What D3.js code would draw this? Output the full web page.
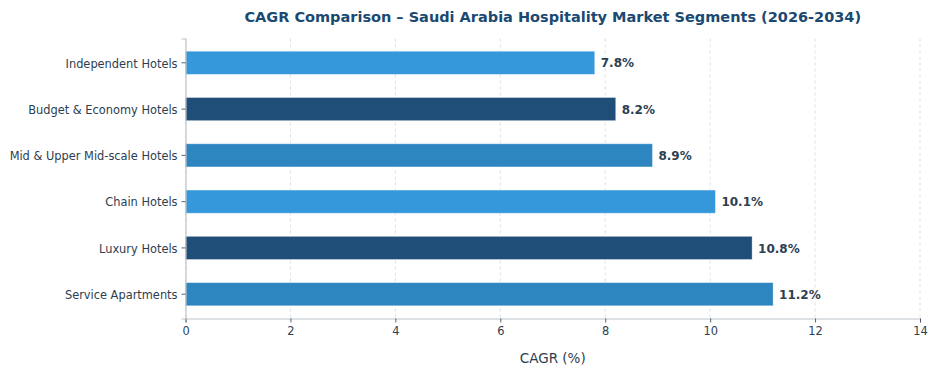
<!DOCTYPE html>
<html>
<head>
<meta charset="utf-8">
<script src="https://cdn.jsdelivr.net/npm/d3@7"></script>
<style>
  body { margin: 0; background: #fff; }
  svg { font-family: "DejaVu Sans", sans-serif; }
</style>
</head>
<body>
<svg id="chart" width="936" height="375"></svg>
<script>
// chart data
const segments = ["Independent Hotels", "Budget & Economy Hotels", "Mid & Upper Mid-scale Hotels",
    "Chain Hotels", "Luxury Hotels", "Service Apartments"];
const cagr = [7.8, 8.2, 8.9, 10.1, 10.8, 11.2];
const barColors = ["#3498db", "#1f4e79", "#2e86c1", "#3498db", "#1f4e79", "#2e86c1"];
const xTicks = [0, 2, 4, 6, 8, 10, 12, 14];

(() => {
    const svg = d3.select("svg#chart");
    const margin = { top: 38.5, right: 16, bottom: 56.5, left: 185.5 };
    const width = 936, height = 375;
    const textColor = "#2c3e50";

    const xScale = d3.scaleLinear()
        .domain([0, 14])
        .range([margin.left, width - margin.right]);

    const yScale = d3.scaleBand()
        .domain(segments)
        .range([margin.top, height - margin.bottom])
        .paddingInner(0.5)
        .paddingOuter(0.275);

    // grid
    svg.append("g")
        .selectAll("line")
        .data(xTicks)
        .enter()
        .append("line")
        .attr("x1", d => xScale(d))
        .attr("x2", d => xScale(d))
        .attr("y1", margin.top)
        .attr("y2", height - margin.bottom)
        .attr("stroke", "#d5d8dc")
        .attr("stroke-width", 0.8)
        .attr("stroke-dasharray", "3,3");

    // bars
    svg.append("g")
        .selectAll("rect")
        .data(segments)
        .enter()
        .append("rect")
        .attr("x", xScale(0))
        .attr("y", d => yScale(d))
        .attr("width", (d, i) => xScale(cagr[i]) - xScale(0))
        .attr("height", yScale.bandwidth())
        .attr("fill", (d, i) => barColors[i])
        .attr("stroke", "#ffffff")
        .attr("stroke-opacity", 0.4)
        .attr("stroke-width", 0.8);

    // value labels
    svg.append("g")
        .selectAll("text")
        .data(segments)
        .enter()
        .append("text")
        .attr("x", (d, i) => xScale(cagr[i]) + 6)
        .attr("y", d => yScale(d) + yScale.bandwidth() / 2 + 0.5)
        .attr("dy", "0.35em")
        .attr("fill", textColor)
        .attr("font-size", 12)
        .attr("font-weight", "bold")
        .text((d, i) => cagr[i].toFixed(1) + "%");

    // axes
    const xAxis = svg.append("g")
        .attr("transform", `translate(0, ${height - margin.bottom})`)
        .call(d3.axisBottom(xScale).tickValues(xTicks).tickSize(4).tickPadding(4));
    const yAxis = svg.append("g")
        .attr("transform", `translate(${margin.left}, 0)`)
        .call(d3.axisLeft(yScale).tickSize(4).tickPadding(4));

    [xAxis, yAxis].forEach(ax => {
        ax.select(".domain").attr("stroke", "#bdc3c7").attr("stroke-width", 1.2);
        ax.selectAll(".tick line").attr("stroke", textColor).attr("stroke-width", 0.8);
        ax.selectAll(".tick text")
            .attr("fill", textColor)
            .attr("font-size", 11.4)
            .attr("font-family", "DejaVu Sans, sans-serif");
    });
    yAxis.selectAll(".tick text").attr("dy", "0.42em");

    // x axis title
    svg.append("text")
        .attr("x", (margin.left + width - margin.right) / 2)
        .attr("y", 363)
        .attr("text-anchor", "middle")
        .attr("fill", textColor)
        .attr("font-size", 13.5)
        .text("CAGR (%)");

    // chart title
    svg.append("text")
        .attr("x", (margin.left + width - margin.right) / 2)
        .attr("y", 22)
        .attr("text-anchor", "middle")
        .attr("fill", "#1a4971")
        .attr("font-size", 14.5)
        .attr("font-weight", "bold")
        .text("CAGR Comparison \u2013 Saudi Arabia Hospitality Market Segments (2026-2034)");
})();
</script>
</body>
</html>
